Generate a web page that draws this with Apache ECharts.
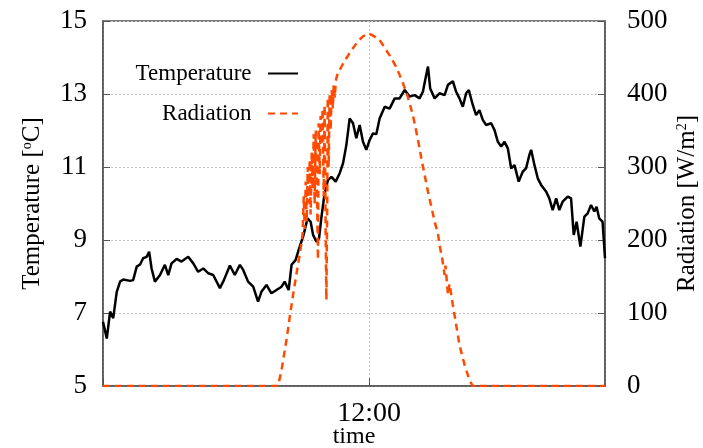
<!DOCTYPE html>
<html><head><meta charset="utf-8">
<script src="https://cdn.jsdelivr.net/npm/echarts@6/dist/echarts.min.js"></script>
<style>html,body{margin:0;padding:0;background:#fff}#c{width:703px;height:448px}</style>
</head><body><div id="c"></div>
<script>
// time in hours
const timeT = [0.00,0.17,0.32,0.46,0.62,0.77,0.91,1.22,1.36,1.52,1.67,1.81,1.97,2.08,2.19,2.34,2.57,2.79,2.94,3.09,3.32,3.54,3.84,4.07,4.29,4.52,4.74,4.97,5.27,5.45,5.72,5.94,6.17,6.32,6.54,6.77,6.99,7.14,7.37,7.59,7.82,8.05,8.19,8.37,8.50,8.68,8.82,9.02,9.22,9.36,9.47,9.62,9.74,9.85,9.99,10.14,10.30,10.49,10.67,10.82,10.97,11.12,11.27,11.42,11.57,11.72,11.87,12.02,12.17,12.32,12.47,12.70,12.92,13.15,13.37,13.60,13.82,14.05,14.27,14.42,14.57,14.65,14.75,14.95,15.17,15.40,15.55,15.77,15.92,16.07,16.22,16.37,16.49,16.67,16.82,16.97,17.12,17.27,17.50,17.65,17.80,17.95,18.10,18.25,18.40,18.55,18.74,18.92,19.07,19.22,19.30,19.45,19.60,19.75,19.98,20.12,20.27,20.43,20.57,20.72,20.95,21.10,21.22,21.35,21.52,21.70,21.85,22.00,22.15,22.25,22.37,22.52,22.63];
const temperature = [6.76,6.3,7.04,6.86,7.58,7.86,7.92,7.88,7.9,8.27,8.33,8.5,8.54,8.68,8.22,7.86,8.04,8.32,8.04,8.36,8.48,8.41,8.54,8.36,8.13,8.22,8.09,8.04,7.68,7.9,8.3,8.04,8.32,8.18,7.86,7.72,7.31,7.58,7.77,7.54,7.63,7.72,7.86,7.63,8.32,8.45,8.73,9.09,9.59,9.5,9.14,8.95,9.05,9.64,10.28,10.64,10.73,10.6,10.83,11.1,11.6,12.33,12.2,11.79,12.15,11.69,11.47,11.74,11.92,11.9,12.33,12.65,12.6,12.88,12.88,13.11,12.93,12.97,12.88,13.06,13.52,13.75,13.15,12.88,13.02,12.97,13.25,13.35,13.06,12.88,12.65,13.02,13.11,12.7,12.42,12.56,12.29,12.15,12.2,12.01,11.69,11.56,11.69,11.51,10.96,11.05,10.6,10.87,10.96,11.33,11.47,11.05,10.69,10.51,10.32,10.14,9.82,10.14,9.82,10.05,10.19,10.14,9.14,9.5,8.82,9.64,9.73,9.96,9.78,9.91,9.59,9.5,8.5];
const timeR = [0,7.89,8.05,8.27,8.42,8.60,8.75,8.90,9.00,9.05,9.09,9.14,9.18,9.23,9.27,9.32,9.36,9.41,9.45,9.50,9.54,9.59,9.63,9.69,9.72,9.77,9.81,9.86,9.90,9.95,9.99,10.04,10.07,10.11,10.13,10.17,10.22,10.26,10.31,10.36,10.40,10.45,10.49,10.58,10.67,10.76,10.85,10.97,11.20,11.49,11.72,11.98,12.17,12.47,12.92,13.22,13.52,13.74,13.97,14.19,14.35,14.50,14.65,14.80,14.95,15.10,15.17,15.29,15.40,15.44,15.55,15.62,15.77,15.92,16.07,16.30,16.52,16.67,22.63];
const radiation = [0,0,22,63,95,131,159,186,209,260,215,280,225,300,250,310,235,320,270,345,250,350,300,173,360,290,370,330,380,260,385,200,118,260,395,300,400,350,405,380,412,395,418,428,433,438,443,449,460,472,479,483,480,474,453,437,415,396,371,339,312,289,266,246,225,209,193,175,152,165,125,140,111,84,56,29,8,0,0];
const xTickHour = 12;
const xTickLabel = '12:00';

const zip = (a, b) => a.slice(0, Math.min(a.length, b.length)).map((v, i) => [v, b[i]]);
const font = 'Liberation Serif';
const chart = echarts.init(document.getElementById('c'));
chart.setOption({
  animation: false,
  grid: {left: 103, right: 98, top: 21, bottom: 62, show: true, borderColor: '#555', borderWidth: 1.5, containLabel: false, outerBoundsMode: 'none'},
  legend: {
    orient: 'vertical', right: 399, top: 57, align: 'right',
    itemWidth: 30, itemHeight: 14, itemGap: 17,
    itemStyle: {opacity: 0},
    formatter: n => n + '  ',
    textStyle: {fontFamily: font, fontSize: 23, color: '#000'},
    data: ['Temperature', 'Radiation']
  },
  xAxis: {
    type: 'value', min: 0, max: 22.63, interval: xTickHour,
    name: 'time', nameLocation: 'middle', nameGap: 39, nameMoveOverlap: false,
    nameTextStyle: {fontFamily: font, fontSize: 24, color: '#000'},
    axisLine: {show: true, lineStyle: {color: '#555', width: 1.5}},
    axisTick: {inside: true, length: 8, lineStyle: {color: '#555'}},
    axisLabel: {formatter: v => (v === xTickHour ? xTickLabel : ''), fontFamily: font, fontSize: 28, color: '#000', margin: 14, showMaxLabel: false},
    splitLine: {show: true, lineStyle: {color: '#c4c4c4', type: [2, 2]}}
  },
  yAxis: [{
    type: 'value', min: 5, max: 15, interval: 2, position: 'left',
    name: 'Temperature [{sup|o}C]', nameLocation: 'middle', nameGap: 58, nameRotate: 90, nameMoveOverlap: false,
    nameTextStyle: {fontFamily: font, fontSize: 25, color: '#000', rich: {sup: {fontFamily: font, fontSize: 14, color: '#000', verticalAlign: 'top'}}},
    axisLine: {show: true, lineStyle: {color: '#555', width: 1.5}},
    axisTick: {inside: true, length: 7, lineStyle: {color: '#555'}},
    axisLabel: {fontFamily: font, fontSize: 27, color: '#000', margin: 16},
    splitLine: {show: true, lineStyle: {color: '#c4c4c4', type: [2, 2]}}
  }, {
    type: 'value', min: 0, max: 500, interval: 100, position: 'right',
    name: 'Radiation [W/m{sup|2}]', nameLocation: 'middle', nameGap: 70, nameRotate: 90, nameMoveOverlap: false,
    nameTextStyle: {fontFamily: font, fontSize: 25, color: '#000', rich: {sup: {fontFamily: font, fontSize: 14, color: '#000', verticalAlign: 'top'}}},
    axisLine: {show: true, lineStyle: {color: '#555', width: 1.5}},
    axisTick: {inside: true, length: 7, lineStyle: {color: '#555'}},
    axisLabel: {fontFamily: font, fontSize: 27, color: '#000', margin: 22},
    splitLine: {show: false}
  }],
  series: [{
    name: 'Temperature', type: 'line', yAxisIndex: 0, showSymbol: false, symbol: 'none',
    data: zip(timeT, temperature),
    color: '#000', lineStyle: {color: '#000', width: 2.5}
  }, {
    name: 'Radiation', type: 'line', yAxisIndex: 1, showSymbol: false, symbol: 'none',
    data: zip(timeR, radiation),
    color: '#ff4a00', lineStyle: {color: '#ff4a00', width: 2.5, type: [7, 5]}
  }]
});
</script>
</body></html>
